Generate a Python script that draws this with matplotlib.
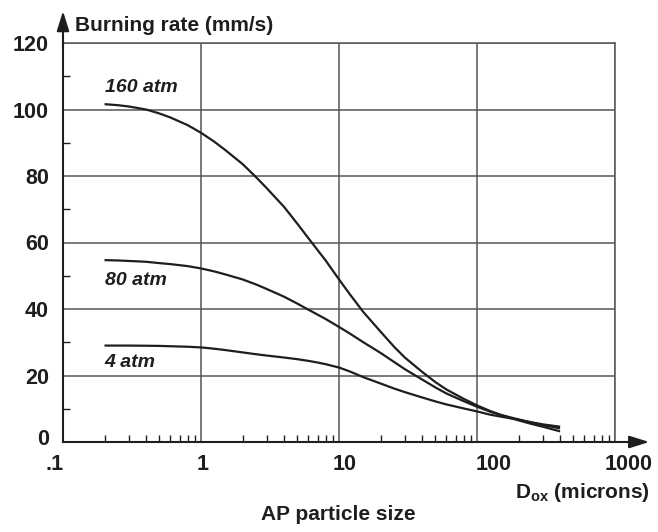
import matplotlib
matplotlib.use('Agg')
import matplotlib.pyplot as plt
from matplotlib.ticker import FixedLocator, NullFormatter
from matplotlib.transforms import ScaledTranslation

plt.rcParams['font.family'] = ['Liberation Sans', 'DejaVu Sans']
plt.rcParams['font.weight'] = 'bold'
plt.rcParams['mathtext.fontset'] = 'custom'
plt.rcParams['mathtext.rm'] = 'Liberation Sans:bold'
plt.rcParams['mathtext.bf'] = 'Liberation Sans:bold'

# particle size (microns) and burning rate (mm/s)
d_ox = [0.2, 0.25, 0.3, 0.4, 0.5, 0.6, 0.8, 1, 1.25, 1.5, 2, 2.5, 3, 4, 5, 6, 7, 8,
        10, 12, 15, 20, 25, 30, 40, 50, 60, 80, 100, 125, 150, 200, 250, 300, 400]
rate_160 = [101.6, 101.3, 100.9, 100.0, 98.8, 97.6, 95.3, 93.0, 90.3, 87.8, 83.6, 79.7,
            76.3, 70.7, 65.6, 61.3, 57.7, 54.6, 48.9, 44.4, 39.1, 33.2, 28.7, 25.4, 21.1,
            18.0, 15.8, 13.0, 11.0, 9.3, 8.1, 6.5, 5.4, 4.6, 3.2]
rate_80 = [54.7, 54.6, 54.45, 54.2, 53.8, 53.5, 52.9, 52.2, 51.3, 50.4, 48.9, 47.4,
           46.0, 43.7, 41.6, 39.8, 38.3, 37.0, 34.6, 32.6, 30.0, 26.8, 24.1, 21.9, 18.8,
           16.4, 14.6, 12.3, 10.6, 9.1, 8.1, 6.8, 5.8, 5.1, 4.1]
rate_4 = [29.0, 29.0, 29.0, 28.95, 28.9, 28.8, 28.65, 28.45, 28.05, 27.65, 26.95, 26.4,
          26.0, 25.4, 24.9, 24.4, 23.9, 23.4, 22.4, 21.2, 19.5, 17.6, 16.1, 15.0, 13.4,
          12.2, 11.3, 10.1, 9.2, 8.2, 7.6, 6.7, 5.9, 5.3, 4.6]

curve_labels = ['160 atm', '80 atm', '4 atm']
label_y = [106.5, 48.7, 24.0]

xtick_vals = [0.1, 1, 10, 100, 1000]
xtick_text = ['.1', '1', '10', '100', '1000']
xtick_shift = [-8, 2, 6, 17, 14]  # pixels
ytick_vals = [0, 20, 40, 60, 80, 100, 120]

ink = '#1e1e1e'
grid_c = '#555555'

fig, ax = plt.subplots(figsize=(6.58, 5.32), dpi=100)
fig.subplots_adjust(left=63/658, right=615/658, bottom=1-442/532, top=1-43/532)

ax.set_xscale('log')
ax.set_xlim(0.1, 1000)
ax.set_ylim(0, 120)

for rates in (rate_160, rate_80, rate_4):
    ax.plot(d_ox, rates, color=ink, lw=1.6, solid_capstyle='butt')

for txt, yy in zip(curve_labels, label_y):
    ax.text(0.2, yy, txt, fontsize=14, style='italic', fontweight='bold',
            color=ink, ha='left', va='center')

# grid and frame
ax.grid(True, which='major', color=grid_c, lw=1.1)
for side in ('top', 'right'):
    ax.spines[side].set_color(grid_c)
    ax.spines[side].set_linewidth(1.1)
for side in ('left', 'bottom'):
    ax.spines[side].set_color(ink)
    ax.spines[side].set_linewidth(1.5)

# ticks
ax.set_xticks(xtick_vals)
ax.set_xticklabels(xtick_text)
ax.xaxis.set_minor_locator(FixedLocator(
    [m * 10.0**e for e in range(-1, 3) for m in range(2, 10)]))
ax.xaxis.set_minor_formatter(NullFormatter())
ax.set_yticks(ytick_vals)
ax.yaxis.set_minor_locator(FixedLocator(list(range(10, 120, 20))))
ax.tick_params(which='major', length=0, labelsize=15.5, labelcolor=ink)
ax.tick_params(axis='x', which='major', pad=9)
ax.tick_params(axis='y', which='major', pad=10)
ax.tick_params(which='minor', direction='in', length=5, width=1, color=ink)

for lab, dx in zip(ax.get_xticklabels(), xtick_shift):
    lab.set_transform(lab.get_transform() + ScaledTranslation(dx/100, 0, fig.dpi_scale_trans))
ylabs = ax.get_yticklabels()
ylabs[0].set_transform(ylabs[0].get_transform() + ScaledTranslation(0, 5/100, fig.dpi_scale_trans))

# axis arrows
ax.annotate('', xy=(1.062, 0), xytext=(0.99, 0), xycoords='axes fraction',
            arrowprops=dict(arrowstyle='-|>,head_length=0.8,head_width=0.25',
                            color=ink, lw=1.5, mutation_scale=15, shrinkA=0, shrinkB=0),
            annotation_clip=False)
ax.annotate('', xy=(0, 1.08), xytext=(0, 0.99), xycoords='axes fraction',
            arrowprops=dict(arrowstyle='-|>,head_length=0.8,head_width=0.25',
                            color=ink, lw=1.5, mutation_scale=15, shrinkA=0, shrinkB=0),
            annotation_clip=False)

ax.text(0.022, 1.045, 'Burning rate (mm/s)', transform=ax.transAxes,
        fontsize=15, color=ink, ha='left', va='center')
fig.text(650/658, 1-492/532, r'D$_\mathrm{ox}$ (microns)', fontsize=15,
         color=ink, ha='right', va='center')
fig.text(338/658, 1-515/532, 'AP particle size', fontsize=15,
         color=ink, ha='center', va='center')

plt.savefig('out.png', dpi=100)
